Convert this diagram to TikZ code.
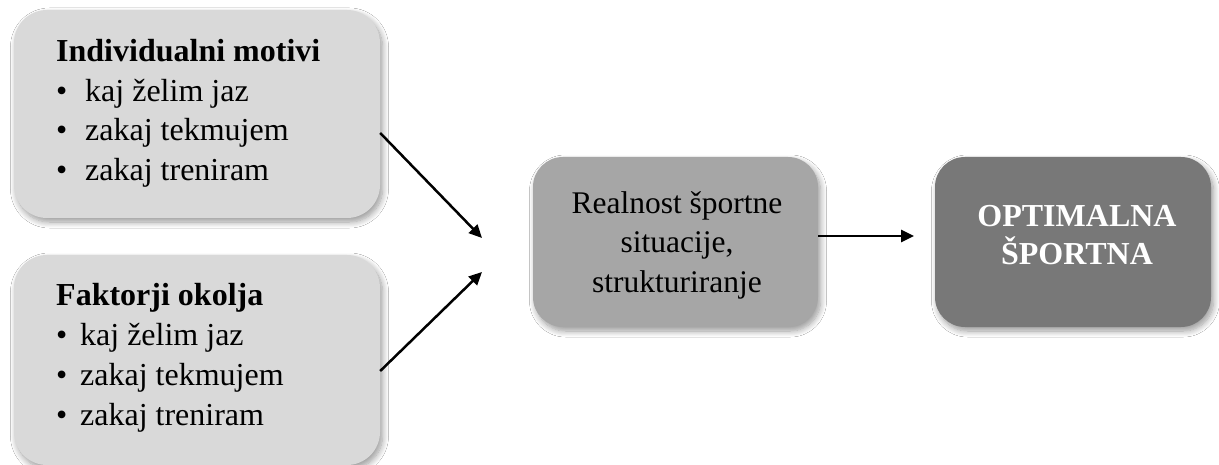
\documentclass[tikz,border=0pt]{standalone}
\usepackage{fontspec}
\setmainfont{Liberation Serif}
\usetikzlibrary{arrows.meta,shadows.blur,calc}
\definecolor{boxlight}{HTML}{D9D9D9}
\definecolor{boxmid}{HTML}{A6A6A6}
\definecolor{boxdark}{HTML}{787878}
\tikzset{
  box/.style={rectangle, rounded corners=33pt, inner sep=0pt,
    blur shadow={shadow xshift=2.5pt, shadow yshift=-4pt, shadow blur radius=6pt, shadow blur steps=10, shadow opacity=40}},
  txt/.style={inner sep=0pt, font=\fontsize{32}{39.5}\selectfont},
  arr/.style={line width=2.5pt, -{Triangle[length=13pt,width=12pt]}},
}
\begin{document}
\begin{tikzpicture}[x=1pt,y=-1pt]
\fill[white] (0,0) rectangle (1219,465);
\useasboundingbox (0,0) rectangle (1219,465);
% boxes
\node[box, fill=boxlight, minimum width=366pt, minimum height=208pt] (b1) at (197,114) {};
\node[box, fill=boxlight, minimum width=366pt, minimum height=210pt] (b2) at (197,360) {};
\node[box, fill=boxmid, rounded corners=30pt, minimum width=285pt, minimum height=170pt] (b3) at (675.5,242) {};
\node[box, fill=boxdark, rounded corners=30pt, minimum width=276pt, minimum height=170pt] (b4) at (1073,242) {};
% texts (base anchor = baseline of the last line)
\node[txt, anchor=base west, align=left] (t1) at (56,180.5)
  {\textbf{Individualni motivi}\\
   \makebox[29pt][l]{•}kaj želim jaz\\
   \makebox[29pt][l]{•}zakaj tekmujem\\
   \makebox[29pt][l]{•}zakaj treniram};
\node[txt, anchor=base west, align=left, font=\fontsize{32}{40}\selectfont] (t2) at (56,425)
  {\textbf{Faktorji okolja}\\
   \makebox[24pt][l]{•}kaj želim jaz\\
   \makebox[24pt][l]{•}zakaj tekmujem\\
   \makebox[24pt][l]{•}zakaj treniram};
\node[txt, anchor=base, align=center, font=\fontsize{31.5}{40}\selectfont] (t3) at (677,293)
  {Realnost športne\\ situacije,\\ strukturiranje};
\node[txt, anchor=base, align=center, text=white, font=\fontsize{32}{37.5}\selectfont\bfseries] (t4) at (1077,264.5)
  {OPTIMALNA\\ ŠPORTNA};
% connectors
\coordinate (a1s) at (381,133);
\coordinate (a1e) at (482,238);
\coordinate (a2s) at (382,371);
\coordinate (a2e) at (482,272);
\coordinate (a3e) at (914,236);
\draw[arr] (b1.east |- a1s) -- (a1e);
\draw[arr] (b2.east |- a2s) -- (a2e);
\draw[arr] (b3.east |- a3e) -- (a3e);
\end{tikzpicture}
\end{document}
